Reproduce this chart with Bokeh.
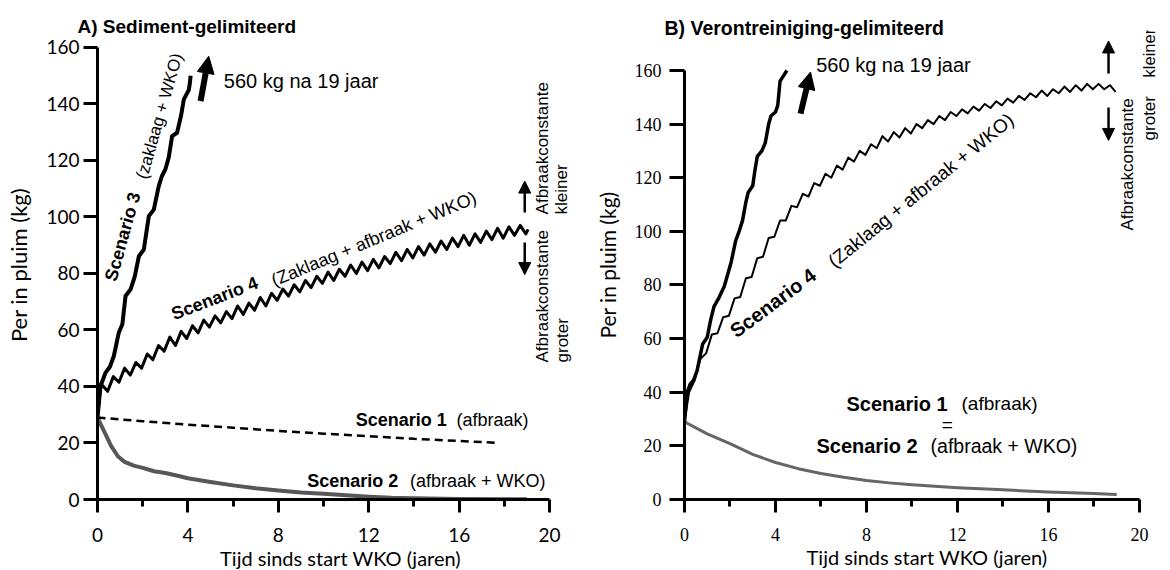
import math
from bokeh.plotting import figure
from bokeh.models import Range1d, FixedTicker, Arrow, NormalHead, Label, Title
from bokeh.layouts import row
from bokeh.embed import file_html
from bokeh.resources import INLINE

# ---------------- data ----------------
X_TICKS = [0, 4, 8, 12, 16, 20]
X_MINOR = [2, 6, 10, 14, 18]
Y_TICKS = [0, 20, 40, 60, 80, 100, 120, 140, 160]

# Panel A : Sediment-gelimiteerd
a_s3_x = [0, 0.13, 0.35, 0.55, 0.72, 0.94, 1.1, 1.24, 1.46, 1.65,
          1.83, 2.05, 2.27, 2.49, 2.71, 2.85, 3.0, 3.15, 3.3, 3.52,
          3.7, 3.82, 4.04, 4.08, 4.12]
a_s3_y = [29, 40, 44.8, 47, 50.7, 59, 62, 72, 74.3, 79,
          86.1, 88.5, 100.3, 102.6, 110.9, 114.5, 116.8, 121, 128.6, 129.8,
          136, 141.6, 145, 147, 150]

a_s4_x = [0, 0.15, 0.45, 0.70, 0.95, 1.20, 1.45, 1.70, 1.95, 2.20,
          2.45, 2.70, 2.95, 3.20, 3.45, 3.70, 3.95, 4.20, 4.45, 4.70,
          4.95, 5.20, 5.45, 5.70, 5.95, 6.20, 6.45, 6.70, 6.95, 7.20,
          7.45, 7.70, 7.95, 8.20, 8.45, 8.70, 8.95, 9.20, 9.45, 9.70,
          9.95, 10.20, 10.45, 10.70, 10.95, 11.20, 11.45, 11.70, 11.95, 12.20,
          12.45, 12.70, 12.95, 13.20, 13.45, 13.70, 13.95, 14.20, 14.45, 14.70,
          14.95, 15.20, 15.45, 15.70, 15.95, 16.20, 16.45, 16.70, 16.95, 17.20,
          17.45, 17.70, 17.95, 18.20, 18.45, 18.70, 18.95, 19.05]
a_s4_y = [29, 41, 38.3, 43.5, 41.5, 46.5, 44, 48.5, 46.5, 51.5,
          49.5, 54.5, 52.5, 57.5, 54.5, 59.5, 57, 61.5, 59, 63.5,
          61, 65, 62.5, 66.5, 64, 68.5, 65.5, 69.5, 67, 71.5,
          68.5, 73, 70.5, 74.5, 72, 76, 73.5, 77.5, 75, 79,
          76.5, 80.5, 77.5, 81.5, 79, 83, 80, 84, 81, 85,
          82, 86, 83.5, 87.5, 84.5, 88.5, 85.5, 89.5, 86.5, 90.5,
          87.5, 91.5, 88.5, 92.5, 89.5, 93.5, 90, 94, 91, 95,
          92, 96, 92.5, 96.5, 93.5, 97, 94, 95.6]

a_s1_x = [0, 2, 4, 6, 8, 10, 12, 14, 16, 17.6]
a_s1_y = [29, 27.7, 26.5, 25.4, 24.3, 23.3, 22.4, 21.5, 20.7, 20.1]

a_s2_x = [0, 0.3, 0.6, 0.9, 1.2, 1.6, 2, 2.5, 3, 3.5, 4, 5, 6, 7, 8,
          9, 10, 11, 12, 13, 14, 16, 19]
a_s2_y = [29, 24, 19, 15.3, 13.3, 12, 11.2, 10, 9.4, 8.5, 7.5, 6.2, 5, 4, 3.2,
          2.5, 2, 1.5, 1, 0.6, 0.4, 0.2, 0.1]

# Panel B : Verontreiniging-gelimiteerd
b_s3_x = [0, 0.12, 0.25, 0.4, 0.55, 0.7, 0.8, 1.0, 1.15, 1.3,
          1.5, 1.75, 1.9, 2.05, 2.25, 2.4, 2.55, 2.7, 2.8, 3.0,
          3.1, 3.2, 3.4, 3.55, 3.7, 3.8, 4.0, 4.1, 4.2, 4.35, 4.5]
b_s3_y = [29, 40, 43, 44.5, 48, 54, 58, 60.5, 67, 72,
          75, 79.5, 84, 88.5, 96.5, 100, 104, 111, 114.5, 117,
          123, 128, 130, 133, 140, 143, 144.5, 147, 156, 158, 160]

b_s4_x = [0, 0.2, 0.45, 0.70, 0.95, 1.20, 1.45, 1.70, 1.95, 2.20,
          2.45, 2.70, 2.95, 3.20, 3.45, 3.70, 3.95, 4.20, 4.45, 4.70,
          4.95, 5.20, 5.45, 5.70, 5.95, 6.20, 6.45, 6.70, 6.95, 7.20,
          7.45, 7.70, 7.95, 8.20, 8.45, 8.70, 8.95, 9.20, 9.45, 9.70,
          9.95, 10.20, 10.45, 10.70, 10.95, 11.20, 11.45, 11.70, 11.95, 12.20,
          12.45, 12.70, 12.95, 13.20, 13.45, 13.70, 13.95, 14.20, 14.45, 14.70,
          14.95, 15.20, 15.45, 15.70, 15.95, 16.20, 16.45, 16.70, 16.95, 17.20,
          17.45, 17.70, 17.95, 18.20, 18.45, 18.70, 18.95]
b_s4_y = [29, 40, 44.5, 52.5, 54.5, 61.5, 62, 68, 68.5, 75,
          75.5, 82.5, 83, 90, 90.5, 97.5, 98, 104, 104, 109.5,
          109, 114, 113, 118, 117, 121.5, 120, 124.5, 123, 127.5,
          126, 130, 128.5, 132.5, 131, 135.5, 133.5, 137, 135, 138.5,
          136.5, 140, 138.5, 141.5, 140, 143, 141.5, 144.5, 143, 145.5,
          144, 146.5, 145, 147.5, 146, 148.5, 147, 149.5, 148, 150.5,
          149, 151.5, 150, 152.5, 150.5, 153, 151.5, 154, 152, 154.5,
          152.5, 155, 153, 155, 153, 154.5, 152]

b_s12_x = [0, 1, 2, 3, 4, 5, 6, 7, 8, 9, 10, 11, 12, 13, 14, 15, 16, 17, 18, 19]
b_s12_y = [29, 24.5, 20.8, 16.8, 13.8, 11.5, 9.7, 8.3, 7.1, 6.2,
           5.5, 4.9, 4.4, 4.0, 3.6, 3.2, 2.8, 2.5, 2.2, 1.9]

SANS = "Liberation Sans"
XLABEL = "Tijd sinds start WKO (jaren)"
YLABEL = "Per in pluim (kg)"


def make_fig(x_end, y_end, mbl, mbr, mbt, mbb, tick_font, xsize, ysize,
             xstand, ystand, ytick_out, ylab_size, ylab_stand):
    p = figure(width=585, height=570, x_range=Range1d(0, x_end),
               y_range=Range1d(0, y_end), output_backend="svg",
               toolbar_location=None, title=None,
               min_border_left=mbl, min_border_right=mbr,
               min_border_top=mbt, min_border_bottom=mbb)
    p.outline_line_color = None
    p.xgrid.visible = False
    p.ygrid.visible = False
    p.background_fill_color = "white"
    p.border_fill_color = "white"
    xa = p.xaxis[0]
    ya = p.yaxis[0]
    xa.ticker = FixedTicker(ticks=X_TICKS, minor_ticks=X_MINOR)
    ya.ticker = FixedTicker(ticks=Y_TICKS, minor_ticks=[])
    xa.bounds = (0, 20)
    ya.bounds = (0, 160)
    for ax in (xa, ya):
        ax.axis_line_width = 3
        ax.axis_line_color = "black"
        ax.major_tick_line_width = 3
        ax.major_tick_line_color = "black"
        ax.minor_tick_line_width = 3
        ax.minor_tick_line_color = "black"
        ax.major_tick_in = 0
        ax.minor_tick_in = 0
        ax.major_label_text_color = "black"
        ax.major_label_text_font = tick_font
    xa.major_tick_out = 13
    xa.minor_tick_out = 7
    ya.major_tick_out = ytick_out
    ya.minor_tick_line_color = None
    xa.major_label_text_font_size = xsize
    ya.major_label_text_font_size = ysize
    xa.major_label_standoff = xstand
    ya.major_label_standoff = ystand
    ya.axis_label = YLABEL
    ya.axis_label_text_font = "Lato"
    ya.axis_label_text_font_size = ylab_size
    ya.axis_label_text_font_style = "normal"
    ya.axis_label_text_color = "black"
    ya.axis_label_standoff = ylab_stand
    return p


def add_title(p, text, size, offset, standoff):
    p.add_layout(Title(text=text, align="left", offset=offset,
                       text_font=SANS, text_font_size=size,
                       text_font_style="bold", text_color="black",
                       standoff=standoff, vertical_align="bottom"), "above")


def add_xlabel(p, size):
    p.add_layout(Title(text=XLABEL, align="center",
                       text_font="Lato", text_font_size=size,
                       text_font_style="normal", text_color="black",
                       standoff=0, vertical_align="middle"), "below")


def lab(p, x, y, text, size, bold=False, angle=0.0, align="left",
        font=SANS, baseline="middle"):
    p.add_layout(Label(x=x, y=y, text=text, text_font=font,
                       text_font_size=size,
                       text_font_style="bold" if bold else "normal",
                       angle=math.radians(angle), text_align=align,
                       text_baseline=baseline, text_color="black"))


def arrow(p, x0, y0, x1, y1, lw, hs):
    p.add_layout(Arrow(end=NormalHead(size=hs, fill_color="black",
                                      line_color="black", line_width=1),
                       x_start=x0, y_start=y0, x_end=x1, y_end=y1,
                       line_width=lw, line_color="black"))


# ---------------- Panel A ----------------
pA = make_fig(21.5, 166.0, 97, 2, 30, 71, "Lato", "19px", "19px", 15, 4, 14,
              "22px", 11)
add_title(pA, "A) Sediment-gelimiteerd", "19px", -20, -12)
add_xlabel(pA, "20px")
pA.line(a_s2_x, a_s2_y, line_color="#575757", line_width=4, line_join="round")
pA.line(a_s1_x, a_s1_y, line_color="black", line_width=2.5, line_dash="8 5")
pA.line(a_s4_x, a_s4_y, line_color="black", line_width=3, line_join="round")
pA.line(a_s3_x, a_s3_y, line_color="black", line_width=4, line_join="round")

arrow(pA, 4.56, 141, 4.92, 156.9, 6, 17)
lab(pA, 5.59, 148.1, "560 kg na 19 jaar", "20px")
lab(pA, 0.575, 77.5, "Scenario 3", "18px", bold=True, angle=74.5)
lab(pA, 1.95, 113.6, "(zaklaag + WKO)", "17px", angle=74.0)
lab(pA, 3.30, 65.4, "Scenario 4", "18px", bold=True, angle=21.0)
lab(pA, 7.73, 77.3, "(Zaklaag + afbraak + WKO)", "18px", angle=22.5)
lab(pA, 11.42, 28.0, "Scenario 1", "18px", bold=True)
lab(pA, 19.07, 28.0, "(afbraak)", "18px", align="right")
lab(pA, 9.28, 6.7, "Scenario 2", "18px", bold=True)
lab(pA, 19.82, 6.7, "(afbraak + WKO)", "18px", align="right")
arrow(pA, 18.9, 101.6, 18.9, 112.7, 2.5, 12)
arrow(pA, 18.9, 91.0, 18.9, 79.6, 2.5, 12)
lab(pA, 19.70, 100.9, "Afbraakconstante", "17px", angle=90)
lab(pA, 20.53, 100.9, "kleiner", "17px", angle=90)
lab(pA, 19.68, 48.5, "Afbraakconstante", "17px", angle=90)
lab(pA, 20.58, 48.5, "groter", "17px", angle=90)

# ---------------- Panel B ----------------
pB = make_fig(21.32, 174.9, 99, 1, 30, 71, "Liberation Serif", "18px", "18px",
              15, 8, 15, "21px", 12)
add_title(pB, "B) Verontreiniging-gelimiteerd", "19.5px", -20, -16)
add_xlabel(pB, "20px")
pB.line(b_s12_x, b_s12_y, line_color="#666666", line_width=3, line_join="round")
pB.line(b_s4_x, b_s4_y, line_color="black", line_width=2, line_join="round")
pB.line(b_s3_x, b_s3_y, line_color="black", line_width=3.5, line_join="round")

arrow(pB, 5.1, 143.9, 5.54, 159.4, 6, 17)
lab(pB, 5.79, 161.9, "560 kg na 19 jaar", "20px")
lab(pB, 2.10, 62.1, "Scenario 4", "20px", bold=True, angle=36.6)
lab(pB, 6.42, 88.0, "(Zaklaag + afbraak + WKO)", "19px", angle=39.0)
lab(pB, 7.12, 35.8, "Scenario 1", "20px", bold=True)
lab(pB, 15.52, 35.8, "(afbraak)", "19px", align="right")
lab(pB, 11.55, 27.8, "=", "19px", align="center")
lab(pB, 5.8, 20.1, "Scenario 2", "20px", bold=True)
lab(pB, 17.27, 20.1, "(afbraak + WKO)", "19.5px", align="right")
arrow(pB, 18.64, 158.9, 18.64, 171.0, 2.5, 12)
arrow(pB, 18.64, 146.2, 18.64, 133.9, 2.5, 12)
lab(pB, 19.49, 100.3, "Afbraakconstante", "17px", angle=90)
lab(pB, 20.42, 157.4, "kleiner", "16.5px", angle=90)
lab(pB, 20.44, 133.9, "groter", "17px", angle=90)

layout = row(pA, pB)
open("out.html", "w").write(file_html(layout, INLINE))
